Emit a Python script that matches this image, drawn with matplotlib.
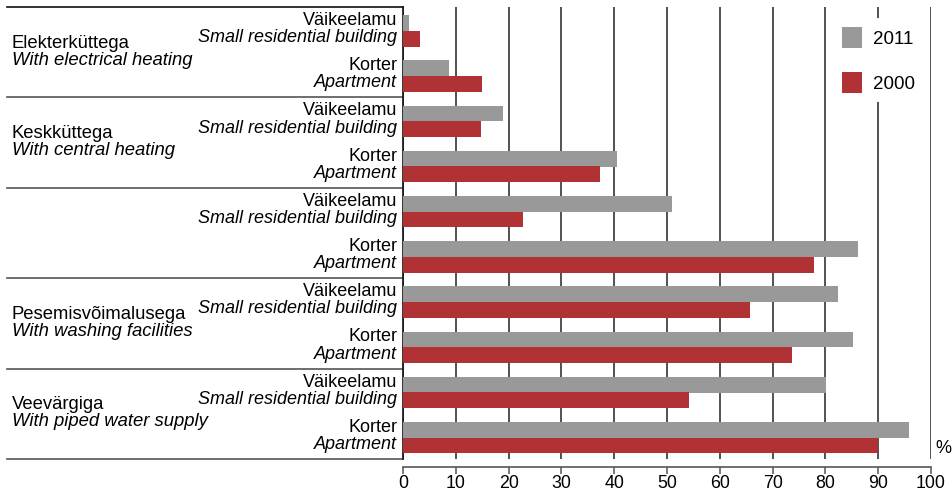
import matplotlib
matplotlib.use("Agg")
import matplotlib.pyplot as plt
from matplotlib.patches import Patch
from matplotlib.transforms import blended_transform_factory

plt.rcParams['font.family'] = ['Liberation Sans', 'DejaVu Sans']

# Groups (Estonian / English), two dwelling types each
group_et = ["Elekterküttega", "Keskküttega", "", "Pesemisvõimalusega", "Veevärgiga"]
group_en = ["With electrical heating", "With central heating", "",
            "With washing facilities", "With piped water supply"]
type_et = ["Väikeelamu", "Korter"]
type_en = ["Small residential building", "Apartment"]

# Share of dwellings, %, rows top to bottom
values_2011 = [1.1, 8.7, 18.9, 40.5, 50.9, 86.1, 82.3, 85.3, 80.2, 95.9]
values_2000 = [3.2, 15.0, 14.8, 37.3, 22.8, 77.9, 65.8, 73.6, 54.1, 89.9]

x_ticks = [0, 10, 20, 30, 40, 50, 60, 70, 80, 90, 100]

GRAY = "#999999"
RED = "#b03234"
W, H = 952, 492

fig = plt.figure(figsize=(W / 100, H / 100), dpi=100)
ax = fig.add_axes([403 / W, 1 - 459 / H, (931 - 403) / W, (459 - 7) / H])

n_rows = len(values_2011)
rows = list(range(n_rows))
bar_h = 0.35
ax.barh([r + 0.355 for r in rows], values_2011, height=bar_h, color=GRAY, zorder=3)
ax.barh([r + 0.700 for r in rows], values_2000, height=bar_h, color=RED, zorder=3)

ax.set_xlim(0, 100)
ax.set_ylim(n_rows, 0)
ax.set_xticks(x_ticks)
ax.set_yticks([])
ax.grid(axis='x', color='#222222', linewidth=1.1, zorder=0)
ax.set_axisbelow(True)

for s in ['top', 'right']:
    ax.spines[s].set_visible(False)
ax.spines['left'].set_color('#111111')
ax.spines['left'].set_linewidth(1.2)
ax.spines['bottom'].set_position(('outward', 6))
ax.spines['bottom'].set_color('#555555')
ax.spines['bottom'].set_linewidth(1.2)
ax.tick_params(axis='x', direction='out', length=5, width=1.1, color='#555555',
               labelsize=12.8, pad=0.5)

tr = blended_transform_factory(ax.transAxes, ax.transData)
x_frac = lambda px: (px - 403) / (931 - 403)

# Row labels (two lines, right aligned)
for r in rows:
    t = r % 2
    ax.text(x_frac(397), r + 0.5 - 0.20, type_et[t], transform=tr, ha='right',
            va='center', fontsize=13)
    ax.text(x_frac(397), r + 0.5 + 0.18, type_en[t], transform=tr, ha='right',
            va='center', fontsize=13, style='italic')

# Group labels and separators
for g in range(len(group_et)):
    yc = 2 * g + 1
    ax.text(x_frac(12), yc - 0.20, group_et[g], transform=tr, ha='left',
            va='center', fontsize=13.3)
    ax.text(x_frac(12), yc + 0.18, group_en[g], transform=tr, ha='left',
            va='center', fontsize=13.3, style='italic')
for b in range(0, n_rows + 1, 2):
    ax.plot([x_frac(7), 0], [b, b], transform=tr, clip_on=False,
            color='#111111' if b == 0 else '#555555', linewidth=1.2)

ax.text(x_frac(935), 9.77, "%", transform=tr, ha='left', va='center', fontsize=13)

handles = [Patch(facecolor=GRAY, edgecolor='none', label='2011'),
           Patch(facecolor=RED, edgecolor='none', label='2000')]
leg = ax.legend(handles=handles, loc='upper left',
                bbox_to_anchor=(833 / W, 1 - 18 / H), bbox_transform=fig.transFigure,
                frameon=True, fancybox=False, framealpha=1, edgecolor='none',
                facecolor='white', fontsize=13.5, handlelength=1.07,
                handleheight=1.3, handletextpad=0.55, labelspacing=1.3,
                borderpad=0.5, borderaxespad=0)
leg.set_zorder(5)

fig.savefig("out.png", dpi=100)
